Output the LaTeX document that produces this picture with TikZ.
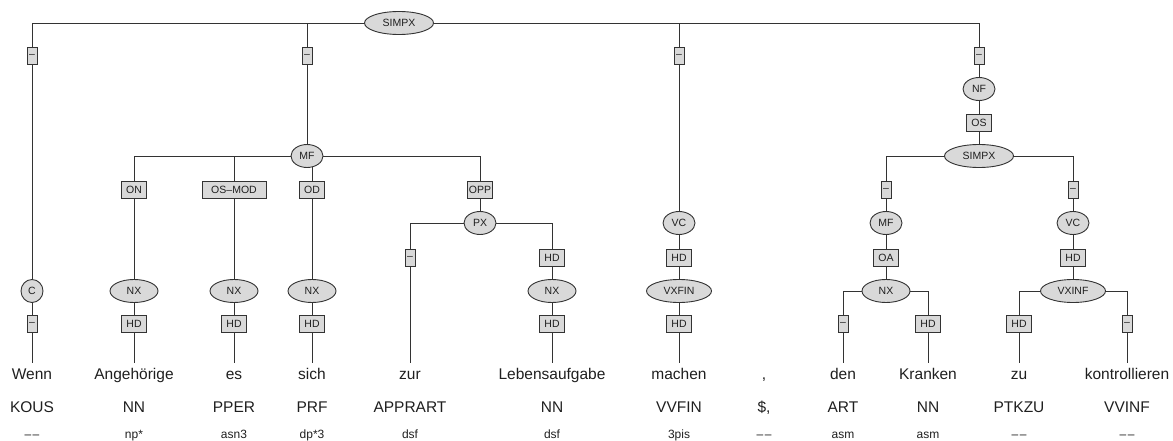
\documentclass[tikz,border=0pt]{standalone}
\usepackage{fontspec}
\setmainfont{Liberation Sans}
\usetikzlibrary{shapes.geometric,backgrounds}
\definecolor{edgegray}{HTML}{333333}
\definecolor{nodegray}{HTML}{D9D9D9}
\newcommand\nomorph{\textendash\kern1.5pt\textendash}
\begin{document}
\begin{tikzpicture}[x=1pt,y=-1pt,
  every node/.style={text=black!88,font=\fontsize{10.5}{12}\selectfont},
  cat/.style={ellipse,draw=edgegray,fill=nodegray,line width=.9pt,minimum width=32pt,minimum height=23pt,inner sep=0pt},
  fnbox/.style={rectangle,draw=edgegray,fill=nodegray,line width=.9pt,minimum width=25pt,minimum height=17pt,inner sep=1pt},
  nofn/.style={fnbox,minimum width=10pt},
  word/.style={font=\fontsize{15.5}{18}\selectfont,anchor=base,text height=11pt,text depth=3pt,inner ysep=5pt},
  postag/.style={font=\fontsize{15.5}{18}\selectfont,anchor=base},
  morph/.style={font=\fontsize{12}{14}\selectfont,anchor=base},
  link/.style={draw=edgegray,line width=.9pt}]
  \useasboundingbox (0,0) rectangle (1173,441);
  % root
  \node[cat,minimum width=69pt] (simpx) at (399,23) {SIMPX};
  \node[nofn] (f1) at (32,56) {\textendash};
  \node[nofn] (f2) at (307,56) {\textendash};
  \node[nofn] (f3) at (679,56) {\textendash};
  \node[nofn] (f4) at (979,56) {\textendash};
  % Wenn
  \node[cat,minimum width=22pt] (c) at (32,291) {C};
  \node[nofn] (c1) at (32,324) {\textendash};
  % Mittelfeld
  \node[cat] (mf) at (307,156) {MF};
  \node[fnbox] (on) at (134,190) {ON};
  \node[fnbox,minimum width=64pt] (osmod) at (234,190) {OS\textendash MOD};
  \node[fnbox] (od) at (312,190) {OD};
  \node[fnbox] (opp) at (480,190) {OPP};
  \node[cat,minimum width=48pt] (nx1) at (134,291) {NX};
  \node[fnbox] (hd1) at (134,324) {HD};
  \node[cat,minimum width=48pt] (nx2) at (234,291) {NX};
  \node[fnbox] (hd2) at (234,324) {HD};
  \node[cat,minimum width=48pt] (nx3) at (312,291) {NX};
  \node[fnbox] (hd3) at (312,324) {HD};
  \node[cat] (px) at (480,223) {PX};
  \node[nofn] (nz) at (410,258) {\textendash};
  \node[fnbox] (hdl) at (552,258) {HD};
  \node[cat,minimum width=48pt] (nx4) at (552,291) {NX};
  \node[fnbox] (hd4) at (552,324) {HD};
  % machen
  \node[cat] (vc1) at (679,223) {VC};
  \node[fnbox] (hdv) at (679,258) {HD};
  \node[cat,minimum width=65pt] (vxfin) at (679,291) {VXFIN};
  \node[fnbox] (hd5) at (679,324) {HD};
  % Nachfeld
  \node[cat] (nf) at (979,89) {NF};
  \node[fnbox] (os) at (979,123) {OS};
  \node[cat,minimum width=69pt] (simpx2) at (979,156) {SIMPX};
  \node[nofn] (f5) at (886,190) {\textendash};
  \node[cat] (mf2) at (886,223) {MF};
  \node[fnbox] (oa) at (886,258) {OA};
  \node[cat,minimum width=48pt] (nx5) at (886,291) {NX};
  \node[nofn] (f6) at (843,324) {\textendash};
  \node[fnbox] (hd6) at (928,324) {HD};
  \node[nofn] (f7) at (1073,190) {\textendash};
  \node[cat] (vc2) at (1073,223) {VC};
  \node[fnbox] (hd7) at (1073,258) {HD};
  \node[cat,minimum width=65pt] (vxinf) at (1073,291) {VXINF};
  \node[fnbox] (hd8) at (1019,324) {HD};
  \node[nofn] (f8) at (1127,324) {\textendash};
  % terminals
  \foreach \x/\w/\p/\m [count=\i] in {32/Wenn/KOUS/\nomorph,
      134/Angehörige/NN/np*, 234/es/PPER/asn3, 312/sich/PRF/dp*3,
      410/zur/APPRART/dsf, 552/Lebensaufgabe/NN/dsf, 679/machen/VVFIN/3pis,
      {764/{,}/{\$,}/\nomorph}, 843/den/ART/asm, 928/Kranken/NN/asm,
      1019/zu/PTKZU/\nomorph, 1127/kontrollieren/VVINF/\nomorph} {
    \node[word] (w\i) at (\x,379) {\w};
    \node[postag] (p\i) at (\x,412) {\p};
    \node[morph] (m\i) at (\x,438) {\m};
  }
  \begin{scope}[on background layer]
    \foreach \a/\b in {f1/simpx,f2/simpx,f3/simpx,f4/simpx,c/f1,c1/c,
        mf/f2,on/mf,osmod/mf,od/mf,opp/mf,nx1/on,hd1/nx1,nx2/osmod,hd2/nx2,
        nx3/od,hd3/nx3,px/opp,nz/px,hdl/px,nx4/hdl,hd4/nx4,
        vc1/f3,hdv/vc1,vxfin/hdv,hd5/vxfin,
        nf/f4,os/nf,simpx2/os,f5/simpx2,f7/simpx2,
        mf2/f5,oa/mf2,nx5/oa,f6/nx5,hd6/nx5,
        vc2/f7,hd7/vc2,vxinf/hd7,hd8/vxinf,f8/vxinf}
      \draw[link] (\a.center) |- (\b.center);
    \foreach \a/\b in {c1/w1,hd1/w2,hd2/w3,hd3/w4,nz/w5,hd4/w6,hd5/w7,
        f6/w9,hd6/w10,hd8/w11,f8/w12}
      \draw[link] (\a.center) -- (\b.north);
  \end{scope}
\end{tikzpicture}
\end{document}
